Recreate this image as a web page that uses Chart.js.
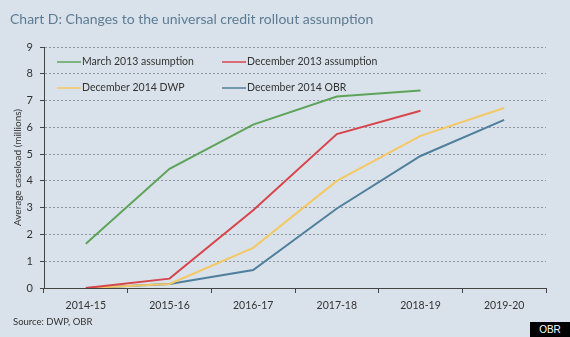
<!DOCTYPE html>
<html>
<head>
<meta charset="utf-8">
<script src="https://cdn.jsdelivr.net/npm/chart.js@4/dist/chart.umd.min.js"></script>
<style>
  html, body { margin: 0; padding: 0; background: #d9e2ea; }
  body { width: 570px; height: 337px; position: relative; overflow: hidden; font-family: Lato, "DejaVu Sans", sans-serif; }
  #title { position: absolute; left: 10px; top: 10px; font-size: 14px; color: #5d7b92; white-space: nowrap; }
  #source { position: absolute; left: 13px; top: 316px; font-size: 9.5px; color: #333; }
  #badge { position: absolute; right: 0; bottom: 0; width: 40px; height: 15px; background: #000; color: #fff; font-size: 10px; line-height: 15px; text-align: center; font-family: Arial, "Liberation Sans", sans-serif; }
  #wrap { position: absolute; left: 0; top: 0; width: 570px; height: 337px; }
</style>
</head>
<body>
<div id="wrap"><canvas id="chart"></canvas></div>
<div id="title">Chart D: Changes to the universal credit rollout assumption</div>
<div id="source">Source: DWP, OBR</div>
<div id="badge">OBR</div>
<script>
const years = ['2014-15', '2015-16', '2016-17', '2017-18', '2018-19', '2019-20'];
const march2013 = [1.65, 4.45, 6.1, 7.15, 7.38, null];
const dec2013 = [0, 0.35, 2.9, 5.75, 6.62, null];
const dec2014Dwp = [0, 0.15, 1.5, 4.0, 5.68, 6.72];
const dec2014Obr = [0, 0.15, 0.67, 2.97, 4.93, 6.28];
const yTicks = [0, 1, 2, 3, 4, 5, 6, 7, 8, 9];

const font = 'Lato, "DejaVu Sans", sans-serif';

// legend sits inside the plot area, two rows of two
const legendPlugin = {
    id: 'insideLegend',
    afterDraw(chart) {
        const ctx = chart.ctx;
        const spots = [[57, 62], [222, 62], [57, 88], [222, 88]];
        ctx.save();
        ctx.font = '10.5px ' + font;
        ctx.textBaseline = 'middle';
        chart.data.datasets.forEach((ds, i) => {
            const [x, y] = spots[i];
            ctx.strokeStyle = ds.borderColor;
            ctx.lineWidth = 1.5;
            ctx.beginPath();
            ctx.moveTo(x, y);
            ctx.lineTo(x + 24, y);
            ctx.stroke();
            ctx.fillStyle = '#333';
            ctx.fillText(ds.label, x + 25, y);
        });
        ctx.restore();
    }
};

new Chart(document.getElementById('chart'), {
    type: 'line',
    data: {
        labels: years,
        datasets: [
            { label: 'March 2013 assumption', data: march2013, borderColor: '#5ea35a' },
            { label: 'December 2013 assumption', data: dec2013, borderColor: '#d8444c' },
            { label: 'December 2014 DWP', data: dec2014Dwp, borderColor: '#f4c862' },
            { label: 'December 2014 OBR', data: dec2014Obr, borderColor: '#4f7f9c' }
        ].map(d => Object.assign(d, { borderWidth: 2, pointRadius: 0, tension: 0, fill: false }))
    },
    options: {
        responsive: true,
        maintainAspectRatio: false,
        animation: false,
        layout: { padding: { top: 47, right: 24, left: 12, bottom: 0 } },
        plugins: { legend: { display: false }, tooltip: { enabled: false } },
        scales: {
            x: {
                offset: true,
                grid: { offset: true, drawOnChartArea: false, drawTicks: true, tickLength: 5, color: '#444' },
                border: { color: '#444', width: 1 },
                ticks: { color: '#333', font: { size: 10.5, family: font }, padding: 6, maxRotation: 0 },
                afterFit(scale) { scale.height = 49; }
            },
            y: {
                min: 0,
                max: 9,
                afterBuildTicks(scale) { scale.ticks = yTicks.map(v => ({ value: v })); },
                grid: { color: '#8e979f', tickColor: '#444', tickLength: 4, tickBorderDash: [] },
                border: { color: '#444', width: 1, dash: [2, 2] },
                ticks: { color: '#333', font: { size: 11, family: font }, padding: 7 },
                title: { display: true, text: 'Average caseload (millions)', color: '#333', font: { size: 10, family: font }, padding: 0 },
                afterFit(scale) { scale.width = 32; }
            }
        }
    },
    plugins: [legendPlugin]
});
</script>
</body>
</html>
